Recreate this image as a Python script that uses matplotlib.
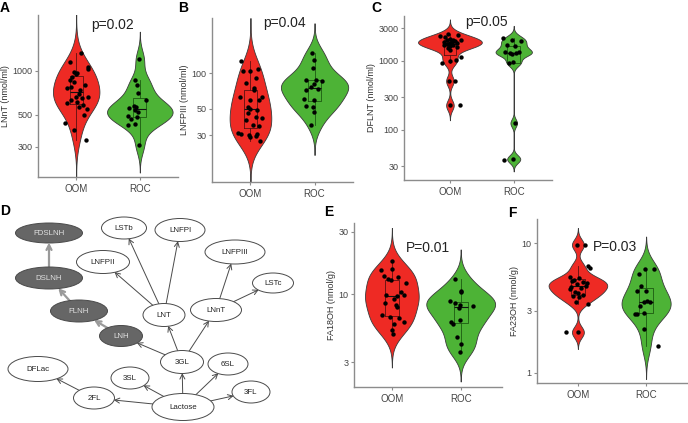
import numpy as np
import matplotlib
matplotlib.use('Agg')
import matplotlib.pyplot as plt
from matplotlib.patches import Ellipse

plt.rcParams['font.family'] = ['Liberation Sans', 'DejaVu Sans']

# ---------------- data ----------------
groups = ['OOM', 'ROC']

lnnt_oom = [1340, 1150, 1070, 1040, 990, 975, 955, 914, 865, 845, 800, 770, 760, 740,
            690, 666, 660, 655, 631, 615, 600, 583, 568, 547, 498, 440, 392, 334]
lnnt_oom_jit = [0.07, -0.10, 0.19, 0.18, -0.03, 0.02, 0.00, -0.06, -0.09, -0.03, 0.14, -0.08,
                -0.15, 0.06, 0.05, 0.00, 0.18, 0.09, -0.08, 0.02, -0.14, 0.10, 0.05, 0.17,
                0.12, -0.18, -0.03, 0.16]
lnnt_roc = [1203, 867, 800, 709, 631, 574, 561, 553, 538, 525, 490, 484, 467, 431, 425, 309]
lnnt_roc_jit = [-0.01, -0.08, -0.04, -0.03, 0.10, -0.09, -0.06, -0.17, -0.08, -0.03, -0.18,
                -0.04, -0.14, -0.08, -0.18, -0.01]

lnfp3_oom = [127, 105, 105, 108, 92, 83, 75, 72, 63, 63, 59, 59, 52, 50, 49, 46, 43, 42, 40,
             36.5, 36, 31, 30.6, 30, 29.4, 30.5, 28.7, 26.9]
lnfp3_oom_jit = [-0.15, -0.12, 0.00, 0.11, 0.08, -0.07, 0.05, 0.06, -0.17, 0.18, 0.00, 0.14,
                 -0.04, 0.00, 0.10, -0.04, 0.09, 0.18, -0.07, 0.04, 0.14, -0.20, -0.15, -0.02,
                 0.08, 0.10, 0.00, 0.15]
lnfp3_roc = [148, 130, 110, 88, 87, 86, 82, 76, 72, 73, 61, 60, 53, 51.5, 47, 36.5]
lnfp3_roc_jit = [-0.04, -0.01, -0.03, -0.13, 0.03, 0.11, -0.01, -0.06, -0.13, 0.05, -0.16,
                 -0.01, -0.13, -0.03, -0.01, -0.06]

dflnt_oom = [2432, 2355, 2277, 2227, 2108, 2037, 2037, 1993, 1950, 1950, 1884, 1823, 1823,
             1782, 1782, 1744, 1687, 1687, 1633, 1596, 1561, 1459, 1143, 1045, 1000, 935,
             513, 513, 228, 228]
dflnt_oom_jit = [-0.03, 0.13, -0.16, -0.08, 0.00, 0.05, 0.18, -0.05, 0.03, 0.08, -0.10, 0.00,
                 0.11, -0.03, 0.04, -0.05, 0.05, -0.10, 0.00, 0.11, -0.03, 0.00, 0.17, 0.10,
                 0.00, -0.13, -0.01, 0.08, 0.00, 0.15]
dflnt_roc = [2179, 1995, 1950, 1687, 1634, 1350, 1306, 1277, 1300, 1350, 936, 960, 126, 38.5, 37.2]
dflnt_roc_jit = [-0.17, -0.02, 0.12, -0.11, 0.02, -0.13, -0.06, -0.02, 0.04, 0.08, -0.07,
                 -0.01, 0.02, -0.01, -0.16]

fa18_oom = [17.9, 15.3, 15.7, 13.8, 13.4, 13.0, 12.8, 12.1, 10.3, 9.9, 9.7, 9.8, 9.2, 8.5,
            8.3, 8.0, 6.9, 6.7, 6.5, 6.1, 5.9, 5.3, 4.9]
fa18_oom_jit = [0.00, -0.16, 0.00, -0.12, 0.09, -0.05, -0.01, 0.21, 0.13, -0.08, 0.08, 0.18,
                0.03, -0.10, 0.06, 0.08, -0.15, -0.03, 0.11, 0.18, 0.03, 0.00, 0.01]
fa18_roc = [13.0, 10.5, 10.3, 8.8, 8.6, 8.2, 8.1, 7.8, 6.1, 5.9, 6.3, 4.7, 4.1, 3.6]
fa18_roc_jit = [-0.08, 0.00, 0.01, -0.16, -0.09, -0.01, 0.18, -0.03, -0.14, -0.11, -0.01,
                -0.06, 0.00, -0.01]

fa23_oom = [9.7, 9.7, 6.7, 6.4, 5.5, 5.4, 5.2, 5.0, 4.8, 4.7, 4.6, 4.5, 4.2, 4.1, 4.0, 3.9,
            3.85, 3.5, 3.4, 2.06, 2.06, 5.1, 4.9, 4.4]
fa23_oom_jit = [-0.01, 0.10, 0.15, 0.17, -0.12, 0.02, -0.06, 0.07, -0.02, 0.12, -0.10, 0.05,
                -0.05, 0.00, 0.07, -0.07, 0.02, -0.03, 0.15, -0.18, 0.00, -0.09, 0.13, -0.11]
fa23_roc = [6.3, 5.8, 6.3, 4.7, 4.3, 4.3, 3.5, 3.55, 3.5, 3.3, 2.83, 2.85, 2.9, 2.18, 1.6]
fa23_roc_jit = [-0.01, -0.10, 0.12, -0.08, -0.13, 0.00, -0.03, 0.01, 0.05, -0.09, -0.16,
                -0.14, -0.03, -0.03, 0.18]

p_labels = ['p=0.02', 'p=0.04', 'p=0.05', 'P=0.01', 'P=0.03']
y_labels = ['LNnT (nmol/ml)', 'LNFPIII (nmol/ml)', 'DFLNT (nmol/ml)',
            'FA18OH (nmol/g)', 'FA23OH (nmol/g)']
y_ticks = [[300, 500, 1000], [30, 50, 100], [30, 100, 300, 1000, 3000], [3, 10, 30], [1, 3, 10]]

# network (panel D)
node_names = ['FDSLNH', 'DSLNH', 'FLNH', 'LNH', 'LSTb', 'LNFPI', 'LNFPII', 'LNFPIII', 'LSTc',
              'LNT', 'LNnT', '3GL', 'DFLac', '3SL', '6SL', '2FL', 'Lactose', '3FL']
dark_nodes = ['FDSLNH', 'DSLNH', 'FLNH', 'LNH']
edges = [('Lactose', '2FL'), ('Lactose', '3SL'), ('Lactose', '3GL'), ('Lactose', '6SL'),
         ('Lactose', '3FL'), ('2FL', 'DFLac'), ('3GL', 'LNH'), ('3GL', 'LNT'), ('3GL', 'LNnT'),
         ('LNT', 'LNFPII'), ('LNT', 'LSTb'), ('LNT', 'LNFPI'), ('LNnT', 'LNFPIII'),
         ('LNnT', 'LSTc'), ('LNH', 'FLNH'), ('FLNH', 'DSLNH'), ('DSLNH', 'FDSLNH')]

# layout of the network nodes (pixel coordinates: cx, cy, w, h)
node_layout = {
    'FDSLNH': (49, 233, 67, 20), 'DSLNH': (49, 278, 67, 22), 'FLNH': (79, 311, 57, 22),
    'LNH': (121, 336, 43, 21), 'LSTb': (124, 228, 45, 22), 'LNFPI': (180, 230, 50, 23),
    'LNFPII': (103, 262, 53, 23), 'LNFPIII': (235, 252, 60, 24), 'LSTc': (273, 283, 41, 20),
    'LNT': (164, 315, 42, 23), 'LNnT': (216, 310, 51, 23), '3GL': (182, 362, 43, 23),
    'DFLac': (38, 369, 60, 25), '3SL': (130, 378, 38, 22), '6SL': (228, 364, 40, 22),
    '2FL': (94, 398, 41, 22), 'Lactose': (183, 407, 62, 27), '3FL': (251, 392, 38, 22),
}

# ---------------- figure ----------------
W, H = 688, 423
fig = plt.figure(figsize=(W / 100, H / 100), dpi=100)
RED = '#EE2A24'
GREEN = '#4DB336'
BOX_COLORS = ['#5a1010', '#1d5a12']


def add_ax(x0, y0, x1, y1):
    return fig.add_axes([x0 / W, 1 - y1 / H, (x1 - x0) / W, (y1 - y0) / H])


def nrd0(x):
    n = len(x)
    sd = np.std(x, ddof=1)
    q75, q25 = np.percentile(x, [75, 25])
    lo = min(sd, (q75 - q25) / 1.34)
    if lo <= 0:
        lo = sd
    return 0.9 * lo * n ** -0.2


def violin(ax, pos, logv, width, color, adjust):
    bw = nrd0(logv) * adjust
    y = np.linspace(logv.min() - 3 * bw, logv.max() + 3 * bw, 600)
    d = np.exp(-0.5 * ((y[:, None] - logv[None, :]) / bw) ** 2).sum(1)
    hw = d / d.max() * width / 2
    ax.fill_betweenx(y, pos - hw, pos + hw, facecolor=color, edgecolor='#3a3a3a',
                     lw=0.6, zorder=1)


def panel(rect, oom, roc, joom, jroc, widths, adjust, ylim, xlim, ticks, ylabel, ptext, ppos):
    ax = add_ax(*rect)
    for i, (vals, jit, col) in enumerate([(oom, joom, RED), (roc, jroc, GREEN)]):
        lv = np.log10(np.asarray(vals, float))
        pos = i + 1
        violin(ax, pos, lv, widths[i], col, adjust[i])
        bc = BOX_COLORS[i]
        ax.boxplot([lv], positions=[pos], widths=0.2, showfliers=False, showcaps=False,
                   boxprops=dict(color=bc, lw=0.6),
                   whiskerprops=dict(color=bc, lw=0.6),
                   medianprops=dict(color='#111111', lw=0.8), zorder=2)
        ax.scatter(pos + np.asarray(jit), lv, s=10, color='black', zorder=3, lw=0)
    ax.set_xlim(*xlim)
    ax.set_ylim(*ylim)
    ax.set_xticks([1, 2])
    ax.set_xticklabels(groups)
    ax.set_yticks(np.log10(ticks))
    ax.set_yticklabels([str(t) for t in ticks])
    ax.set_ylabel(ylabel, fontsize=6.5, color='#333333', labelpad=1.5)
    for s in ['top', 'right']:
        ax.spines[s].set_visible(False)
    for s in ['left', 'bottom']:
        ax.spines[s].set_color('#8c8c8c')
        ax.spines[s].set_linewidth(1.0)
    ax.tick_params(axis='both', colors='#8c8c8c', length=2.5, width=0.8,
                   labelcolor='#444444')
    ax.tick_params(axis='y', labelsize=6.5, pad=1.5)
    ax.tick_params(axis='x', labelsize=7, pad=2.5)
    fig.text(ppos[0] / W, 1 - ppos[1] / H, ptext, fontsize=10, color='#222222',
             ha='center', va='center')
    return ax


panel((38, 15, 178, 177), lnnt_oom, lnnt_roc, lnnt_oom_jit, lnnt_roc_jit, (0.73, 1.03),
      (1.35, 1.25), (2.269, 3.386), (0.4, 2.6), y_ticks[0], y_labels[0], p_labels[0], (113, 25))
panel((212, 18, 353, 182), lnfp3_oom, lnfp3_roc, lnfp3_oom_jit, lnfp3_roc_jit, (0.65, 1.05),
      (1.3, 1.25), (1.079, 2.469), (0.4, 2.6), y_ticks[1], y_labels[1], p_labels[1], (284, 23))
panel((404, 16, 552, 180), dflnt_oom, dflnt_roc, dflnt_oom_jit, dflnt_roc_jit, (1.0, 0.57),
      (1.0, 0.6), (1.275, 3.652), (0.28, 2.6), y_ticks[2], y_labels[2], p_labels[2], (486, 22))
panel((354, 223, 502, 387), fa18_oom, fa18_roc, fa18_oom_jit, fa18_roc_jit, (0.78, 1.0),
      (1.1, 1.15), (0.285, 1.546), (0.45, 2.6), y_ticks[3], y_labels[3], p_labels[3], (428, 248))
panel((537, 219, 687, 383), fa23_oom, fa23_roc, fa23_oom_jit, fa23_roc_jit, (0.86, 0.72),
      (1.0, 1.1), (-0.077, 1.185), (0.4, 2.6), y_ticks[4], y_labels[4], p_labels[4], (615, 247))

# ---------------- panel D: network ----------------
axd = add_ax(0, 205, 355, 423)
axd.set_xlim(0, 355)
axd.set_ylim(423, 205)
axd.axis('off')
patches = {}
for name in node_names:
    cx, cy, w, h = node_layout[name]
    dark = name in dark_nodes
    e = Ellipse((cx, cy), w, h, facecolor='#666666' if dark else 'white',
                edgecolor='#4a4a4a', lw=0.7, zorder=2)
    axd.add_patch(e)
    patches[name] = e
    axd.text(cx, cy, name, fontsize=5.7, ha='center', va='center',
             color='#e0e0e0' if dark else '#222222', zorder=3)
for src, dst in edges:
    thick = src in dark_nodes and dst in dark_nodes
    axd.annotate('', xy=node_layout[dst][:2], xytext=node_layout[src][:2],
                 arrowprops=dict(arrowstyle='->,head_length=0.35,head_width=0.18',
                                 color='#9a9a9a' if thick else '#4a4a4a',
                                 lw=1.6 if thick else 0.7,
                                 patchA=patches[src], patchB=patches[dst],
                                 shrinkA=0, shrinkB=0), zorder=1)

# ---------------- panel letters ----------------
for letter, (x, y) in zip('ABCDEF', [(5, 8), (183, 8), (376, 8), (5, 211), (329, 212), (512, 213)]):
    fig.text(x / W, 1 - y / H, letter, fontsize=10, fontweight='bold', ha='center',
             va='center', color='black')

fig.savefig('out.png', dpi=100)
